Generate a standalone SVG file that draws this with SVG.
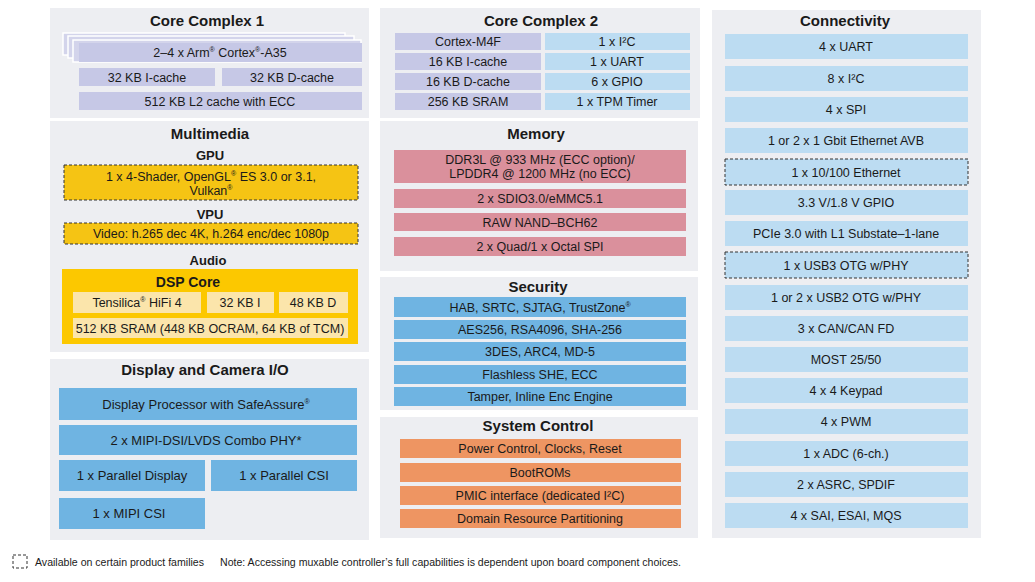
<svg xmlns="http://www.w3.org/2000/svg" width="1035" height="582" viewBox="0 0 1035 582">
<style>
text{font-family:"Liberation Sans",Arial,sans-serif;fill:#1a1a1a;text-anchor:middle}
.t{font-size:12.5px}
.t13{font-size:13px}
.h{font-size:15px;font-weight:bold}
.s{font-size:13px;font-weight:bold}
.panel{fill:#edeef2}
.lav{fill:#c6c8e6}
.lb{fill:#bcdcf2}
.mb{fill:#6fb4e2}
.pk{fill:#da909c}
.or{fill:#ee9562}
.yl{fill:#f5c414}
.dsp{fill:#fcc800}
.dspi{fill:#fbe5ab}
.dash{stroke:#333;stroke-width:1;stroke-dasharray:3 2}
.back{fill:#d3d4eb;stroke:#ffffff;stroke-width:1.5}
.sup{font-size:7px}
</style>
<rect width="1035" height="582" fill="#ffffff"/>

<g id="core-complex-1">
<rect class="panel" x="50" y="8" width="319" height="110"/>
<text class="h" x="207" y="26">Core Complex 1</text>
<rect class="back" x="63" y="33" width="282" height="22"/>
<rect class="back" x="68" y="36" width="286" height="22"/>
<rect class="back" x="73" y="40" width="288" height="22"/>
<rect class="lav" x="79" y="43" width="283" height="19"/>
<text class="t" x="220" y="57">2–4 x Arm<tspan class="sup" dy="-5">®</tspan><tspan dy="5"> Cortex</tspan><tspan class="sup" dy="-5">®</tspan><tspan dy="5">-A35</tspan></text>
<rect class="lav" x="79" y="68" width="136" height="18"/>
<text class="t" x="147" y="81.5">32 KB I-cache</text>
<rect class="lav" x="222" y="68" width="140" height="18"/>
<text class="t" x="292" y="81.5">32 KB D-cache</text>
<rect class="lav" x="79" y="92" width="283" height="18"/>
<text class="t" x="220" y="105.5">512 KB L2 cache with ECC</text>
</g>

<g id="multimedia">
<rect class="panel" x="50" y="121" width="319" height="231"/>
<text class="h" x="210" y="139">Multimedia</text>
<text class="s" x="210" y="160">GPU</text>
<rect class="yl dash" x="64" y="165" width="294" height="35"/>
<text class="t" x="211" y="181">1 x 4-Shader, OpenGL<tspan class="sup" dy="-5">®</tspan><tspan dy="5"> ES 3.0 or 3.1,</tspan></text>
<text class="t" x="211" y="195">Vulkan<tspan class="sup" dy="-5">®</tspan></text>
<text class="s" x="210" y="219">VPU</text>
<rect class="yl dash" x="64" y="223" width="294" height="21"/>
<text class="t" x="211" y="238">Video: h.265 dec 4K, h.264 enc/dec 1080p</text>
<text class="s" x="208" y="265">Audio</text>
<rect class="dsp" x="62" y="269" width="296" height="75"/>
<text class="s" x="188" y="287" style="font-size:14px">DSP Core</text>
<rect class="dspi" x="73" y="292" width="128" height="21"/>
<text class="t" x="137" y="307">Tensilica<tspan class="sup" dy="-5">®</tspan><tspan dy="5"> HiFi 4</tspan></text>
<rect class="dspi" x="207" y="292" width="67" height="21"/>
<text class="t" x="240" y="307">32 KB I</text>
<rect class="dspi" x="279" y="292" width="69" height="21"/>
<text class="t" x="313" y="307">48 KB D</text>
<rect class="dspi" x="73" y="318" width="275" height="20"/>
<text class="t" x="210" y="332.5">512 KB SRAM (448 KB OCRAM, 64 KB of TCM)</text>
</g>

<g id="display-camera">
<rect class="panel" x="50" y="359" width="319" height="181"/>
<text class="h" x="205" y="375">Display and Camera I/O</text>
<rect class="mb" x="59" y="388" width="298" height="32"/>
<text class="t13" x="206" y="409">Display Processor with SafeAssure<tspan class="sup" dy="-5">®</tspan></text>
<rect class="mb" x="59" y="425" width="298" height="30"/>
<text class="t13" x="206" y="445">2 x MIPI-DSI/LVDS Combo PHY*</text>
<rect class="mb" x="59" y="460" width="146" height="31"/>
<text class="t13" x="132" y="480">1 x Parallel Display</text>
<rect class="mb" x="211" y="460" width="146" height="31"/>
<text class="t13" x="284" y="480">1 x Parallel CSI</text>
<rect class="mb" x="59" y="498" width="146" height="31"/>
<text class="t13" x="129" y="518">1 x MIPI CSI</text>
</g>

<g id="core-complex-2">
<rect class="panel" x="380" y="8" width="320" height="110"/>
<text class="h" x="541" y="26">Core Complex 2</text>
<rect class="lav" x="395" y="33" width="146" height="17"/>
<text class="t" x="468" y="46">Cortex-M4F</text>
<rect class="lav" x="395" y="53" width="146" height="17"/>
<text class="t" x="468" y="66">16 KB I-cache</text>
<rect class="lav" x="395" y="73" width="146" height="17"/>
<text class="t" x="468" y="86">16 KB D-cache</text>
<rect class="lav" x="395" y="93" width="146" height="17"/>
<text class="t" x="468" y="106">256 KB SRAM</text>
<rect class="lb" x="545" y="33" width="145" height="17"/>
<text class="t" x="617" y="46">1 x I²C</text>
<rect class="lb" x="545" y="53" width="145" height="17"/>
<text class="t" x="617" y="66">1 x UART</text>
<rect class="lb" x="545" y="73" width="145" height="17"/>
<text class="t" x="617" y="86">6 x GPIO</text>
<rect class="lb" x="545" y="93" width="145" height="17"/>
<text class="t" x="617" y="106">1 x TPM Timer</text>
</g>

<g id="memory">
<rect class="panel" x="380" y="121" width="318" height="150"/>
<text class="h" x="536" y="139">Memory</text>
<rect class="pk" x="394" y="150" width="292" height="33"/>
<text class="t" x="540" y="164">DDR3L @ 933 MHz (ECC option)/</text>
<text class="t" x="540" y="178">LPDDR4 @ 1200 MHz (no ECC)</text>
<rect class="pk" x="394" y="189" width="292" height="19"/>
<text class="t" x="540" y="203">2 x SDIO3.0/eMMC5.1</text>
<rect class="pk" x="394" y="213" width="292" height="18"/>
<text class="t" x="540" y="226.5">RAW NAND–BCH62</text>
<rect class="pk" x="394" y="237" width="292" height="19"/>
<text class="t" x="540" y="251">2 x Quad/1 x Octal SPI</text>
</g>

<g id="security">
<rect class="panel" x="380" y="277" width="318" height="133"/>
<text class="h" x="538" y="292">Security</text>
<rect class="mb" x="394" y="297" width="292" height="20"/>
<text class="t" x="540" y="311.5">HAB, SRTC, SJTAG, TrustZone<tspan class="sup" dy="-5">®</tspan></text>
<rect class="mb" x="394" y="320" width="292" height="19"/>
<text class="t" x="540" y="334">AES256, RSA4096, SHA-256</text>
<rect class="mb" x="394" y="342" width="292" height="19"/>
<text class="t" x="540" y="356">3DES, ARC4, MD-5</text>
<rect class="mb" x="394" y="365" width="292" height="19"/>
<text class="t" x="540" y="379">Flashless SHE, ECC</text>
<rect class="mb" x="394" y="387" width="292" height="19"/>
<text class="t" x="540" y="401">Tamper, Inline Enc Engine</text>
</g>

<g id="system-control">
<rect class="panel" x="380" y="417" width="318" height="121"/>
<text class="h" x="538" y="431">System Control</text>
<rect class="or" x="400" y="439" width="281" height="19"/>
<text class="t" x="540" y="453">Power Control, Clocks, Reset</text>
<rect class="or" x="400" y="463" width="281" height="19"/>
<text class="t" x="540" y="477">BootROMs</text>
<rect class="or" x="400" y="486" width="281" height="19"/>
<text class="t" x="540" y="500">PMIC interface (dedicated I²C)</text>
<rect class="or" x="400" y="509" width="281" height="19"/>
<text class="t" x="540" y="523">Domain Resource Partitioning</text>
</g>

<g id="connectivity">
<rect class="panel" x="712" y="10" width="269" height="528"/>
<text class="h" x="845" y="26">Connectivity</text>
<rect class="lb" x="725" y="34" width="243" height="25"/>
<text class="t" x="846" y="51">4 x UART</text>
<rect class="lb" x="725" y="66" width="243" height="25"/>
<text class="t" x="846" y="83">8 x I²C</text>
<rect class="lb" x="725" y="97" width="243" height="25"/>
<text class="t" x="846" y="114">4 x SPI</text>
<rect class="lb" x="725" y="128" width="243" height="25"/>
<text class="t" x="846" y="145">1 or 2 x 1 Gbit Ethernet AVB</text>
<rect class="lb dash" x="725" y="159" width="243" height="26"/>
<text class="t" x="846" y="176.5">1 x 10/100 Ethernet</text>
<rect class="lb" x="725" y="190" width="243" height="25"/>
<text class="t" x="846" y="207">3.3 V/1.8 V GPIO</text>
<rect class="lb" x="725" y="221" width="243" height="25"/>
<text class="t" x="846" y="238">PCIe 3.0 with L1 Substate–1-lane</text>
<rect class="lb dash" x="725" y="252" width="243" height="26"/>
<text class="t" x="846" y="269.5">1 x USB3 OTG w/PHY</text>
<rect class="lb" x="725" y="285" width="243" height="25"/>
<text class="t" x="846" y="302">1 or 2 x USB2 OTG w/PHY</text>
<rect class="lb" x="725" y="316" width="243" height="25"/>
<text class="t" x="846" y="333">3 x CAN/CAN FD</text>
<rect class="lb" x="725" y="347" width="243" height="25"/>
<text class="t" x="846" y="364">MOST 25/50</text>
<rect class="lb" x="725" y="378" width="243" height="25"/>
<text class="t" x="846" y="395">4 x 4 Keypad</text>
<rect class="lb" x="725" y="409" width="243" height="25"/>
<text class="t" x="846" y="426">4 x PWM</text>
<rect class="lb" x="725" y="441" width="243" height="25"/>
<text class="t" x="846" y="458">1 x ADC (6-ch.)</text>
<rect class="lb" x="725" y="472" width="243" height="25"/>
<text class="t" x="846" y="489">2 x ASRC, SPDIF</text>
<rect class="lb" x="725" y="503" width="243" height="25"/>
<text class="t" x="846" y="520">4 x SAI, ESAI, MQS</text>
</g>

<g id="legend">
<rect x="13" y="555" width="14" height="13" fill="none" class="dash"/>
<text x="35" y="566" style="font-size:10.5px;text-anchor:start" textLength="169" lengthAdjust="spacingAndGlyphs">Available on certain product families</text>
<text x="220" y="566" style="font-size:10.5px;text-anchor:start" textLength="461" lengthAdjust="spacingAndGlyphs">Note: Accessing muxable controller’s full capabilities is dependent upon board component choices.</text>
</g>

<g id="connectors"></g>
</svg>
